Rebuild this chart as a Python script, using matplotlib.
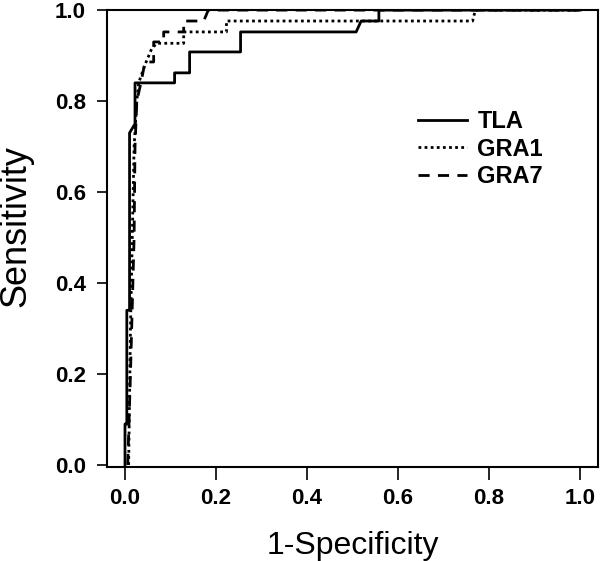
import matplotlib
matplotlib.use("Agg")
import matplotlib.pyplot as plt

plt.rcParams['font.family'] = ['Liberation Sans', 'DejaVu Sans']

# ROC curves (1-specificity, sensitivity)
tla_fpr = [0, 0, 0.004, 0.004, 0.010, 0.010, 0.022, 0.022, 0.109, 0.109, 0.142, 0.142,
           0.254, 0.254, 0.508, 0.519, 0.558, 0.558, 1.0]
tla_tpr = [0, 0.09, 0.09, 0.34, 0.34, 0.73, 0.75, 0.84, 0.84, 0.862, 0.862, 0.908,
           0.908, 0.952, 0.952, 0.976, 0.976, 1.0, 1.0]

gra1_fpr = [0.008, 0.012, 0.016, 0.020, 0.026, 0.030, 0.044, 0.059, 0.070, 0.129, 0.129,
            0.223, 0.223, 0.764, 0.770, 1.0]
gra1_tpr = [0, 0.30, 0.50, 0.70, 0.80, 0.84, 0.88, 0.916, 0.927, 0.927, 0.952,
            0.952, 0.976, 0.976, 1.0, 1.0]

gra7_fpr = [0.006, 0.012, 0.020, 0.022, 0.026, 0.035, 0.044, 0.063, 0.063, 0.085, 0.085,
            0.129, 0.129, 0.173, 0.183, 1.0]
gra7_tpr = [0, 0.20, 0.50, 0.70, 0.80, 0.84, 0.886, 0.886, 0.93, 0.93, 0.952,
            0.952, 0.976, 0.976, 1.0, 1.0]

ticks = [0.0, 0.2, 0.4, 0.6, 0.8, 1.0]
tick_labels = ['0.0', '0.2', '0.4', '0.6', '0.8', '1.0']

fig = plt.figure(figsize=(6, 5.61), dpi=100)
ax = fig.add_axes([0.178, 0.168, 0.819, 0.814])

ax.plot(tla_fpr, tla_tpr, color='black', lw=2.0, ls='-', label='TLA')
ax.plot(gra1_fpr, gra1_tpr, color='black', lw=2.0, ls=(0, (1, 1.2)), label='GRA1')
ax.plot(gra7_fpr, gra7_tpr, color='black', lw=2.0, ls=(0, (4, 3)), label='GRA7')

ax.set_xlim(-0.04, 1.04)
ax.set_ylim(-0.004, 1.0)
ax.set_xticks(ticks)
ax.set_xticklabels(tick_labels, fontweight='bold', fontsize=16)
ax.set_yticks(ticks)
ax.set_yticklabels(tick_labels, fontweight='bold', fontsize=16)
ax.tick_params(axis='x', length=9, width=1.2, pad=6)
ax.tick_params(axis='y', length=7, width=1.2, pad=8)
for s in ax.spines.values():
    s.set_linewidth(1.5)

ax.set_xlabel('1-Specificity', fontsize=23, labelpad=16)
ax.set_ylabel('Sensitivity', fontsize=26, va='center')
ax.yaxis.set_label_coords(-0.184, 0.527)

leg = ax.legend(loc='upper left', bbox_to_anchor=(0.633, 0.781), frameon=False,
                borderaxespad=0, borderpad=0,
                handlelength=2.1, handletextpad=0.42, labelspacing=0.19,
                prop={'weight': 'bold', 'size': 17})

fig.savefig('out.png', dpi=100)
